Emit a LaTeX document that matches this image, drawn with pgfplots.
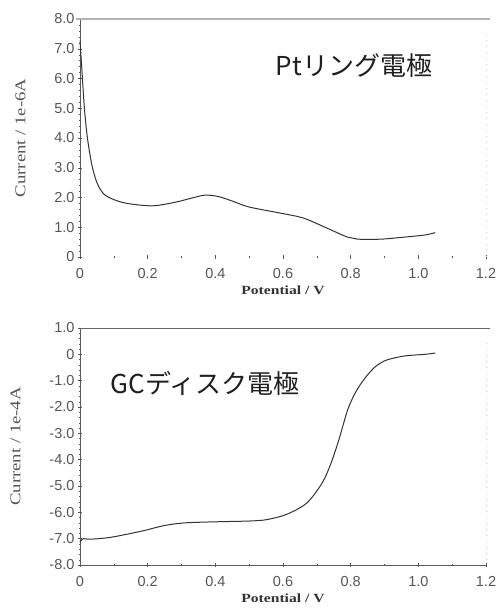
\documentclass[border=0pt]{standalone}
\usepackage{pgfplots}
\pgfplotsset{compat=1.18}
\usepackage{fontspec}
\setmainfont{Liberation Sans}
\newfontfamily\labelfont{Liberation Serif}[FakeStretch=1.25]
\newfontfamily\jp{Noto Sans CJK JP}
\definecolor{tickgray}{HTML}{555555}
\definecolor{curve}{HTML}{333333}

\pgfplotsset{
  rde/.style={
    scale only axis, width=406pt, anchor=south west,
    xmin=0, xmax=1.2,
    xtick={0,0.2,0.4,0.6,0.8,1.0,1.2},
    xticklabels={0,0.2,0.4,0.6,0.8,1.0,1.2},
    minor x tick num=1,
    minor y tick num=4,
    tick align=outside,
    tick style={tickgray, thin},
    major tick length=4pt, minor tick length=2pt,
    ticklabel style={font=\fontsize{14.5}{16}\selectfont, text=tickgray},
    xticklabel style={yshift=-6pt},
    xlabel={\labelfont\bfseries Potential / V},
    xlabel style={font=\fontsize{12.5}{14}\selectfont, text=black!80, yshift=0pt},
    ylabel style={font=\fontsize{15}{17}\selectfont, text=tickgray, yshift=22pt},
    axis lines=left,
    axis line style={-, black!65, line width=0.9pt},
    clip=false,
  }
}

\begin{document}
\begin{tikzpicture}
\useasboundingbox (0,0) rectangle (497pt,613pt);

% Pt ring electrode
\begin{axis}[rde, at={(80pt,356pt)}, height=238pt,
  ymin=0, ymax=8,
  ytick={0,1,...,8},
  yticklabels={0,1.0,2.0,3.0,4.0,5.0,6.0,7.0,8.0},
  ylabel={\labelfont Current / 1e-6A},
  x axis line style={draw=none},
]
\addplot[curve, line width=1pt, smooth, tension=0.5] coordinates {
(0,7.27) (0.005,6.4) (0.013,5.0) (0.022,4.0) (0.035,3.1) (0.05,2.5)
(0.07,2.12) (0.1,1.93) (0.14,1.80) (0.215,1.72) (0.285,1.85) (0.33,1.98) (0.37,2.08)
(0.41,2.03) (0.45,1.88) (0.5,1.68) (0.59,1.48) (0.66,1.31) (0.73,0.97)
(0.79,0.67) (0.82,0.60) (0.89,0.60) (0.96,0.67) (1.02,0.74) (1.05,0.82)
};
\draw[gray!60, line width=1.3pt] (rel axis cs:-0.01,1) -- (rel axis cs:1.01,1);
\draw[gray!45, dash pattern=on 1pt off 5pt] (rel axis cs:1,0) -- (rel axis cs:1,0.95);
\node[font=\jp\fontsize{26}{30}\selectfont, text=black!88] at (axis cs:0.81,6.42) {Ptリング電極};
\end{axis}

% GC disk electrode
\begin{axis}[rde, at={(80pt,48pt)}, height=237pt,
  ymin=-8, ymax=1,
  ytick={-8,-7,...,1},
  yticklabels={-8.0,-7.0,-6.0,-5.0,-4.0,-3.0,-2.0,-1.0,0,1.0},
  ylabel={\labelfont Current / 1e-4A},
]
\addplot[curve, line width=1pt, smooth, tension=0.5] coordinates {
(0,-7.12) (0.01,-7.0) (0.03,-7.02) (0.09,-6.95) (0.18,-6.72) (0.25,-6.5)
(0.31,-6.4) (0.4,-6.36) (0.5,-6.33) (0.55,-6.28) (0.61,-6.08) (0.67,-5.65)
(0.715,-4.9) (0.74,-4.2) (0.765,-3.25) (0.79,-2.15) (0.81,-1.55) (0.83,-1.12)
(0.85,-0.78) (0.87,-0.5) (0.89,-0.32) (0.91,-0.2) (0.96,-0.06) (1.02,0.0) (1.05,0.05)
};
\draw[black!60, line width=0.9pt] (rel axis cs:0,1) -- (rel axis cs:1.01,1);
\draw[gray!45, dash pattern=on 1pt off 5pt] (rel axis cs:1,0.02) -- (rel axis cs:1,0.95);
\node[font=\jp\fontsize{26}{30}\selectfont, text=black!88] at (axis cs:0.37,-1.09) {GCディスク電極};
\end{axis}
\end{tikzpicture}
\end{document}
